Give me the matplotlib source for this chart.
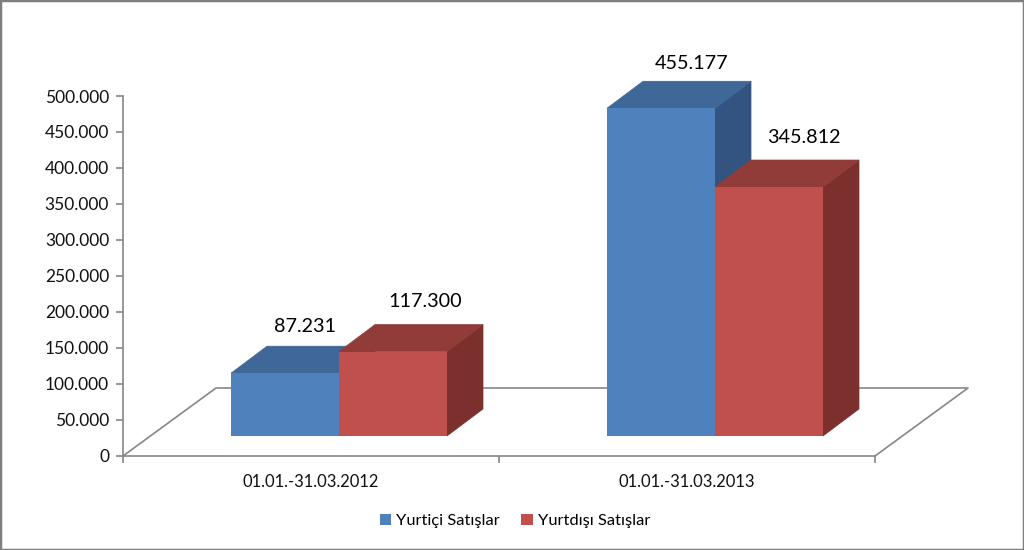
import matplotlib
matplotlib.use('Agg')
import matplotlib.pyplot as plt
from matplotlib.patches import Polygon, Patch, Rectangle

plt.rcParams['font.family'] = ['Lato', 'DejaVu Sans']

periods = ['01.01.-31.03.2012', '01.01.-31.03.2013']
yurtici = [87231, 455177]
yurtdisi = [117300, 345812]
labels_y = ['Yurtiçi Satışlar', 'Yurtdışı Satışlar']

W, H = 1024, 550
fig = plt.figure(figsize=(W/100, H/100), dpi=100, facecolor='white')
ax = fig.add_axes([123/W, 1-456/H, 752/W, 360/H])
ax.set_xlim(0, 2)
ax.set_ylim(0, 500000)
ax.patch.set_visible(False)

px_x = 2/752
px_y = 500000/360
gray = '#868686'

# pseudo 3d depth of bars, floor
dx, dy = 36*px_x, 27*px_y
fx, fy = 93*px_x, 68*px_y
base = 20*px_y
shift = 28*px_x
w = 108*px_x


def bar3d(x, val, front, top, side):
    y1 = base+val
    ax.add_patch(Polygon([(x+w, base), (x+w+dx, base+dy), (x+w+dx, y1+dy), (x+w, y1)],
                         fc=side, ec=side, lw=0.5, zorder=3, clip_on=False))
    ax.add_patch(Polygon([(x, y1), (x+dx, y1+dy), (x+w+dx, y1+dy), (x+w, y1)],
                         fc=top, ec=top, lw=0.5, zorder=3, clip_on=False))
    ax.bar(x, val, w, bottom=base, align='edge', color=front, zorder=3, clip_on=False)


# floor
ax.plot([0, fx, 2+fx, 2], [0, fy, fy, 0], color=gray, lw=1.2, zorder=1, clip_on=False)

lab_off = [[(20, 47), (32, 50)], [(31, 45), (35, 50)]]
for i in range(len(periods)):
    x0 = i+0.5-w+shift
    bar3d(x0, yurtici[i], '#4F81BD', '#3F6797', '#335480')
    bar3d(x0+w, yurtdisi[i], '#C0504D', '#913C39', '#7B302E')
    for j, v in enumerate([yurtici[i], yurtdisi[i]]):
        cx = x0+w*j+w/2
        t = f'{v//1000}.{v%1000:03d}'
        ax.annotate(t, (cx, base+v), xytext=(lab_off[i][j][0]*0.72, lab_off[i][j][1]*0.72),
                    textcoords='offset points', ha='center', va='center',
                    fontsize=14.2, color='black', zorder=5, annotation_clip=False)

ax.set_yticks(range(0, 500001, 50000))
ax.set_yticklabels(['0' if v == 0 else f'{v//1000}.000' for v in range(0, 500001, 50000)])
ax.set_xticks([0, 1, 2])
ax.set_xticklabels([])
ax.set_xticks([0.5, 1.5], minor=True)
ax.set_xticklabels(periods, minor=True)
ax.tick_params(axis='x', which='minor', length=0, pad=13, labelsize=11.9, labelcolor='#111111')
ax.tick_params(axis='x', which='major', length=5, color=gray, width=1.2)
ax.tick_params(axis='y', length=5, color=gray, width=1.2, labelsize=12.5, labelcolor='#111111', pad=5)
for s in ['top', 'right']:
    ax.spines[s].set_visible(False)
for s in ['left', 'bottom']:
    ax.spines[s].set_color(gray)
    ax.spines[s].set_linewidth(1.2)

handles = [Patch(fc='#4F81BD'), Patch(fc='#C0504D')]
fig.legend(handles, labels_y, loc='center', bbox_to_anchor=(515/W, 1-521/H), ncol=2,
           frameon=False, fontsize=11.8, handlelength=0.7, handleheight=0.7,
           handletextpad=0.3, columnspacing=1.3)

# outer chart frame
fig.add_artist(Rectangle((0, 0), 1, 1, transform=fig.transFigure, fc='none', ec='#7F7F7F', lw=2.5))

fig.savefig('out.png', dpi=100)
